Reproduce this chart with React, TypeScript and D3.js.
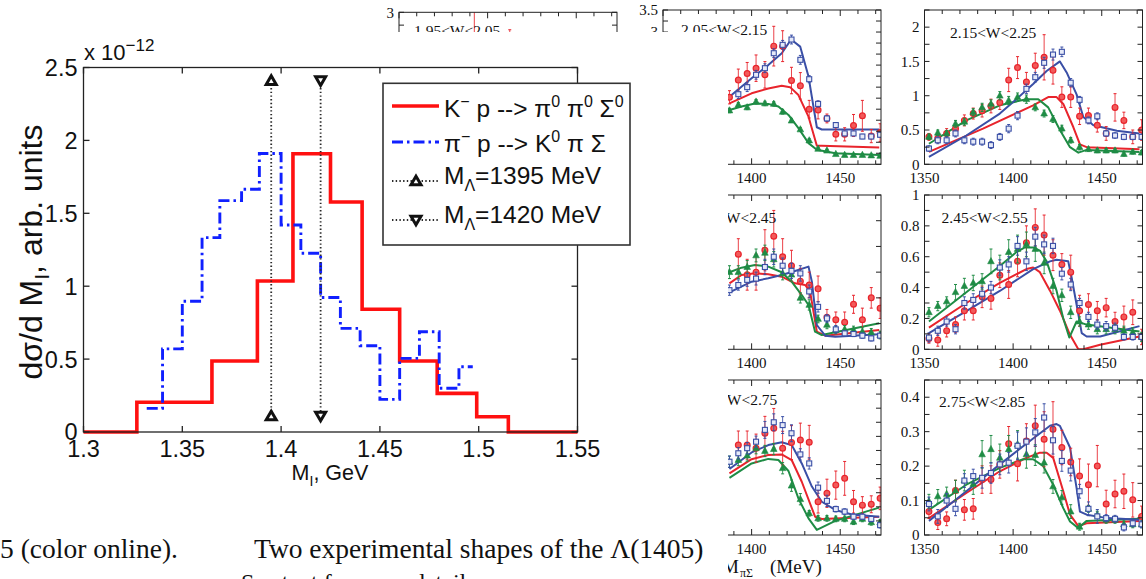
import React from 'react';
import * as d3 from 'd3';

// ================= Main figure data =================
const xTicksMain = [1.3, 1.35, 1.4, 1.45, 1.5, 1.55];
const xTickLabelsMain = ['1.3', '1.35', '1.4', '1.45', '1.5', '1.55'];
const yTicksMain = [0, 0.5, 1, 1.5, 2, 2.5];
const yTickLabelsMain = ['0', '0.5', '1', '1.5', '2', '2.5'];

// K- p --> pi0 pi0 Sigma0 (red histogram)
const redEdges = [1.3, 1.327, 1.365, 1.388, 1.406, 1.425, 1.441, 1.46, 1.479, 1.499, 1.515, 1.55];
const redValues = [0, 0.204, 0.487, 1.036, 1.908, 1.578, 0.842, 0.487, 0.265, 0.105, 0];

// pi- p --> K0 pi Sigma (blue dash-dot histogram)
const blueEdges = [1.332, 1.34, 1.35, 1.36, 1.369, 1.38, 1.389, 1.4, 1.41, 1.42, 1.43, 1.44, 1.45, 1.46, 1.47, 1.48, 1.49, 1.497];
const blueValues = [0.162, 0.57, 0.897, 1.333, 1.587, 1.665, 1.91, 1.42, 1.226, 0.922, 0.711, 0.592, 0.224, 0.505, 0.688, 0.3, 0.448];

// Lambda mass markers
const lambdaMasses = [1.395, 1.42];
const lambdaMarkerLevels = [0.11, 2.41];

// ================= Side panels data (M_piSigma in MeV) =================
const panelXs = [1352.5, 1357.5, 1362.5, 1367.5, 1372.5, 1377.5, 1382.5, 1387.5, 1392.5, 1397.5, 1402.5, 1407.5, 1412.5, 1417.5, 1422.5, 1427.5, 1432.5, 1437.5, 1442.5, 1447.5, 1452.5, 1457.5, 1462.5, 1467.5, 1472.5];
const panelXsB = [1387.5, 1392.5, 1397.5, 1402.5, 1407.5, 1412.5, 1417.5, 1422.5, 1427.5, 1432.5, 1437.5, 1442.5, 1447.5, 1452.5, 1457.5, 1462.5, 1467.5, 1472.5];
const panelXTicksLabels = ['1350', '1400', '1450'];

// Panel 1.95<W<2.05 (mostly hidden)
const redXsA = [1392.5, 1412.5];
const redA = [2.35, 2.5];
const redErrA = [0.7, 0.16];

// Panel 2.05<W<2.15
const redB1 = [1.52, 1.91, 2.06, 2.18, 2.03, 2.68, 2.68, 1.9, 1.78, 1.25, 1.23, 1.04, 0.68, 0.68, 0.88, 1.1, 0.64, 0.72];
const redErrB1 = [0.15, 0.25, 0.25, 0.3, 0.3, 0.45, 0.35, 0.3, 0.3, 0.2, 0.2, 0.1, 0.15, 0.15, 0.25, 0.35, 0.15, 0.2];
const blueB1 = [null, 1.59, 1.75, 2.03, 2.18, 2.52, 2.71, 2.83, 2.37, 1.93, 1.37, 1.04, 0.89, 0.7, 0.7, 0.63, 0.63, 0.67];
const blueErrB1 = [0.08, 0.1, 0.1, 0.1, 0.1, 0.1, 0.1, 0.1, 0.1, 0.08, 0.07, 0.06, 0.05, 0.05, 0.05, 0.05, 0.05, 0.05];
const greenB1 = [1.22, 1.35, 1.29, 1.42, 1.38, 1.37, 1.19, 0.99, 0.79, 0.54, 0.35, 0.31, 0.23, 0.21, 0.21, 0.21, 0.2, 0.19];
const greenErrB1 = [0.05, 0.05, 0.05, 0.05, 0.05, 0.05, 0.05, 0.04, 0.04, 0.04, 0.03, 0.03, 0.03, 0.03, 0.03, 0.03, 0.03, 0.03];
const blueCurveB1 = [[1387.5, 1.53], [1400, 1.95], [1409.4, 2.25], [1417, 2.52], [1422.3, 2.83], [1427.4, 2.67], [1432.1, 1.99], [1436.8, 0.84], [1439.6, 0.79], [1472, 0.79]];
const redCurveB1 = [[1387.5, 1.38], [1400, 1.61], [1409.4, 1.72], [1417, 1.78], [1421.7, 1.75], [1426.4, 1.57], [1432.1, 1.08], [1436.8, 0.42], [1439.6, 0.42], [1472, 0.38]];
const greenCurveB1 = [[1387.5, 1.23], [1394.3, 1.31], [1401.9, 1.38], [1409.4, 1.37], [1415.1, 1.31], [1420.8, 1.12], [1426.4, 0.82], [1432.1, 0.48], [1436.8, 0.33], [1447.2, 0.25], [1472, 0.21]];

// Panel 2.15<W<2.25
const redC1 = [0.4, 0.38, 0.45, 0.52, 0.64, 0.74, 0.78, 0.85, 0.9, 1.23, 1.41, 1.2, 1.44, 1.56, 1.37, 0.98, 0.98, 0.7, 0.71, 0.57, 0.45, 0.83, 0.64, 0.4, 0.5];
const redErrC1 = [0.05, 0.06, 0.07, 0.07, 0.08, 0.08, 0.09, 0.1, 0.1, 0.17, 0.16, 0.14, 0.18, 0.33, 0.2, 0.15, 0.15, 0.12, 0.11, 0.1, 0.1, 0.2, 0.12, 0.1, 0.15];
const blueC1 = [0.23, 0.35, 0.35, 0.45, 0.35, 0.33, 0.33, 0.28, 0.4, 0.52, 0.71, 1.1, 1.27, 1.48, 1.6, 1.64, 1.19, 0.94, 0.64, 0.7, 0.45, 0.42, 0.4, 0.4, 0.4];
const blueErrC1 = [0.04, 0.05, 0.05, 0.05, 0.05, 0.05, 0.05, 0.05, 0.05, 0.06, 0.06, 0.07, 0.07, 0.08, 0.08, 0.07, 0.06, 0.05, 0.05, 0.05, 0.04, 0.04, 0.04, 0.04, 0.04];
const greenC1 = [0.4, 0.46, 0.45, 0.59, 0.62, 0.76, 0.83, 0.88, 1.0, 0.93, 0.98, 0.95, 0.83, 0.74, 0.66, 0.52, 0.35, 0.25, 0.22, 0.2, 0.2, 0.2, 0.15, 0.18, 0.17];
const greenErrC1 = [0.04, 0.04, 0.04, 0.05, 0.05, 0.05, 0.06, 0.06, 0.06, 0.06, 0.06, 0.06, 0.05, 0.05, 0.05, 0.05, 0.04, 0.04, 0.03, 0.03, 0.03, 0.03, 0.03, 0.03, 0.03];
const blueCurveC1 = [[1352.5, 0.11], [1373.6, 0.42], [1392.5, 0.74], [1401, 0.93], [1411.3, 1.17], [1418.9, 1.36], [1426.4, 1.5], [1430.2, 1.34], [1435.8, 1.02], [1439.6, 0.69], [1445.3, 0.57], [1458.5, 0.49], [1471.3, 0.45]];
const redCurveC1 = [[1352.5, 0.18], [1383, 0.52], [1411.3, 0.86], [1419.8, 0.98], [1424.5, 0.98], [1428.3, 0.88], [1434, 0.54], [1437.7, 0.29], [1441.5, 0.25], [1471.3, 0.22]];
const greenCurveC1 = [[1352.5, 0.3], [1373.6, 0.64], [1392.5, 0.86], [1407.5, 0.95], [1414.2, 0.95], [1419.8, 0.83], [1426.4, 0.5], [1432.1, 0.25], [1436.8, 0.17], [1441.5, 0.21], [1471.3, 0.18]];

// Panel 2.35<W<2.45
const redB2 = [null, 0.74, 0.58, 0.6, 0.77, 0.88, 0.72, 0.65, 0.53, 0.5, 0.47, 0.25, 0.23, 0.21, 0.35, 0.23, 0.4, 0.32];
const redErrB2 = [0.1, 0.12, 0.12, 0.14, 0.16, 0.2, 0.14, 0.12, 0.1, 0.1, 0.1, 0.06, 0.06, 0.08, 0.07, 0.09, 0.08, 0.08];
const blueB2 = [0.46, 0.5, 0.54, 0.55, 0.64, 0.72, 0.65, 0.61, 0.59, 0.45, 0.33, 0.24, 0.155, 0.124, 0.119, 0.106, 0.085, 0.106];
const blueErrB2 = [0.04, 0.04, 0.05, 0.05, 0.06, 0.06, 0.06, 0.06, 0.06, 0.05, 0.04, 0.03, 0.03, 0.02, 0.02, 0.02, 0.02, 0.02];
const greenB2 = [0.6, 0.6, 0.64, 0.73, 0.75, 0.7, 0.59, 0.58, 0.4, 0.345, 0.236, 0.19, 0.15, 0.155, 0.15, 0.137, 0.132, 0.111];
const greenErrB2 = [0.05, 0.05, 0.05, 0.05, 0.06, 0.06, 0.05, 0.05, 0.04, 0.04, 0.03, 0.03, 0.03, 0.03, 0.03, 0.03, 0.03, 0.03];
const blueCurveB2 = [[1387.5, 0.443], [1400, 0.526], [1409.4, 0.552], [1417, 0.578], [1424.5, 0.609], [1432.1, 0.643], [1434, 0.526], [1436.8, 0.189], [1441.5, 0.106], [1447.2, 0.098], [1472, 0.117]];
const redCurveB2 = [[1387.5, 0.513], [1394.3, 0.578], [1401.9, 0.591], [1409.4, 0.583], [1417, 0.565], [1424.5, 0.513], [1430.2, 0.5], [1433, 0.448], [1436.8, 0.137], [1441.5, 0.106], [1472, 0.15]];
const greenCurveB2 = [[1387.5, 0.599], [1394.3, 0.635], [1401.9, 0.656], [1409.4, 0.643], [1417, 0.599], [1422.6, 0.526], [1428.3, 0.422], [1432.1, 0.345], [1435.8, 0.137], [1439.6, 0.111], [1472, 0.202]];

// Panel 2.45<W<2.55
const redC2 = [0.07, 0.06, 0.12, 0.16, 0.25, 0.25, 0.34, 0.33, 0.48, 0.42, 0.57, 0.69, 0.79, 0.74, 0.61, 0.55, 0.5, 0.25, 0.29, 0.25, 0.27, 0.18, 0.21, 0.24, 0.08];
const redErrC2 = [0.03, 0.04, 0.04, 0.05, 0.06, 0.06, 0.07, 0.07, 0.08, 0.09, 0.1, 0.11, 0.12, 0.13, 0.1, 0.07, 0.11, 0.1, 0.07, 0.06, 0.06, 0.06, 0.07, 0.08, 0.05];
const blueC2 = [0.076, 0.12, 0.18, 0.13, 0.3, 0.32, 0.36, 0.4, 0.53, 0.55, 0.67, 0.57, 0.73, 0.68, 0.67, 0.49, 0.42, 0.3, 0.21, 0.16, 0.15, 0.14, 0.08, 0.08, 0.08];
const blueErrC2 = [0.03, 0.03, 0.03, 0.03, 0.04, 0.04, 0.04, 0.04, 0.05, 0.05, 0.06, 0.06, 0.06, 0.06, 0.05, 0.04, 0.04, 0.03, 0.03, 0.03, 0.03, 0.03, 0.02, 0.02, 0.02];
const greenC2 = [0.24, 0.28, 0.31, 0.37, 0.41, 0.43, 0.44, 0.57, 0.53, 0.63, 0.65, 0.68, 0.65, 0.56, 0.41, 0.35, 0.24, 0.18, 0.16, 0.13, 0.13, 0.13, 0.12, 0.11, 0.08];
const greenErrC2 = [0.03, 0.03, 0.03, 0.05, 0.05, 0.05, 0.05, 0.08, 0.08, 0.08, 0.09, 0.08, 0.08, 0.07, 0.05, 0.04, 0.04, 0.03, 0.03, 0.03, 0.03, 0.03, 0.03, 0.03, 0.03];
const blueCurveC2 = [[1352.5, 0.105], [1373.6, 0.247], [1392.5, 0.378], [1411.3, 0.52], [1420.8, 0.57], [1424.5, 0.58], [1431.1, 0.57], [1433, 0.465], [1435.8, 0.29], [1438.7, 0.105], [1441.5, 0.083], [1449.1, 0.083], [1471.3, 0.15]];
const redCurveC2 = [[1352.5, 0.14], [1373.6, 0.3], [1392.5, 0.43], [1407.5, 0.52], [1411.3, 0.53], [1415.1, 0.5], [1420.8, 0.38], [1426.4, 0.25], [1432.1, 0.094], [1436.8, 0.0], [1439.6, 0.0], [1449.1, 0.03], [1471.3, 0.083]];
const greenCurveC2 = [[1352.5, 0.18], [1373.6, 0.37], [1392.5, 0.54], [1401.9, 0.63], [1406.6, 0.66], [1411.3, 0.66], [1415.1, 0.64], [1418.9, 0.57], [1424.5, 0.38], [1428.3, 0.2], [1431.7, 0.076], [1435.8, 0.18], [1441.5, 0.16], [1471.3, 0.116]];

// Panel 2.65<W<2.75
const redB3 = [null, 0.319, 0.319, 0.308, 0.361, 0.379, 0.308, 0.328, 0.337, 0.329, 0.118, 0.148, 0.177, 0.201, 0.118, 0.106, 0.109, 0.13];
const redErrB3 = [0.05, 0.05, 0.05, 0.05, 0.06, 0.07, 0.06, 0.06, 0.06, 0.06, 0.04, 0.05, 0.05, 0.06, 0.04, 0.03, 0.03, 0.04];
const blueB3 = [0.26, 0.29, 0.308, 0.331, 0.373, 0.4, 0.39, 0.361, 0.286, 0.254, 0.168, 0.121, 0.092, 0.083, 0.065, 0.065, 0.057, 0.035];
const blueErrB3 = [0.02, 0.02, 0.02, 0.02, 0.03, 0.03, 0.03, 0.03, 0.02, 0.02, 0.02, 0.02, 0.01, 0.01, 0.01, 0.01, 0.01, 0.01];
const greenB3 = [0.26, 0.266, 0.282, 0.308, 0.298, 0.305, 0.237, 0.175, 0.127, 0.077, 0.059, 0.059, 0.057, 0.057, 0.047, 0.057, 0.045, 0.045];
const greenErrB3 = [0.02, 0.02, 0.02, 0.02, 0.02, 0.02, 0.02, 0.02, 0.02, 0.01, 0.01, 0.01, 0.01, 0.01, 0.01, 0.01, 0.01, 0.01];
const blueCurveB3 = [[1387.5, 0.234], [1400, 0.293], [1409.4, 0.319], [1417, 0.329], [1422.6, 0.319], [1428.3, 0.254], [1434, 0.172], [1439.6, 0.118], [1447.2, 0.089], [1456.6, 0.073], [1472, 0.065]];
const redCurveB3 = [[1387.5, 0.219], [1400, 0.269], [1409.4, 0.284], [1417, 0.286], [1422.6, 0.266], [1428.3, 0.189], [1435.8, 0.065], [1439.6, 0.057], [1472, 0.065]];
const greenCurveB3 = [[1387.5, 0.203], [1400, 0.254], [1409.4, 0.27], [1415.1, 0.266], [1420.8, 0.227], [1426.4, 0.13], [1432.1, 0.059], [1436.8, 0.018], [1447.2, 0.05], [1472, 0.097]];

// Panel 2.75<W<2.85
const redC3 = [0.068, 0.036, 0.047, 0.129, 0.073, 0.076, 0.161, 0.161, 0.205, 0.265, 0.207, 0.273, 0.317, 0.278, 0.307, 0.254, 0.212, 0.171, 0.146, 0.2, 0.09, 0.119, 0.127, 0.102, 0.054];
const redErrC3 = [0.02, 0.02, 0.02, 0.03, 0.03, 0.03, 0.04, 0.04, 0.04, 0.05, 0.05, 0.05, 0.06, 0.08, 0.08, 0.05, 0.04, 0.05, 0.06, 0.06, 0.04, 0.04, 0.05, 0.05, 0.03];
const blueC3 = [0.09, 0.054, 0.1, 0.076, 0.158, 0.171, 0.166, 0.18, 0.205, 0.21, 0.259, 0.271, 0.298, 0.341, 0.275, 0.215, 0.187, 0.127, 0.076, 0.054, 0.049, 0.047, 0.022, 0.034, 0.031];
const blueErrC3 = [0.02, 0.02, 0.02, 0.02, 0.02, 0.02, 0.03, 0.03, 0.03, 0.03, 0.04, 0.04, 0.04, 0.04, 0.04, 0.03, 0.03, 0.02, 0.02, 0.02, 0.01, 0.01, 0.01, 0.01, 0.01];
const greenC3 = [0.098, 0.112, 0.119, 0.129, 0.158, 0.148, 0.234, 0.249, 0.224, 0.249, 0.263, 0.234, 0.232, 0.21, 0.141, 0.109, 0.068, 0.024, 0.076, 0.059, 0.044, 0.044, 0.031, 0.031, 0.031];
const greenErrC3 = [0.02, 0.02, 0.02, 0.03, 0.03, 0.03, 0.04, 0.04, 0.04, 0.04, 0.04, 0.04, 0.03, 0.03, 0.02, 0.02, 0.02, 0.01, 0.01, 0.01, 0.01, 0.01, 0.01, 0.01, 0.01];
const blueCurveC3 = [[1352.5, 0.041], [1373.6, 0.127], [1392.5, 0.205], [1411.3, 0.28], [1420.8, 0.317], [1424.5, 0.322], [1426.4, 0.317], [1432.1, 0.254], [1435.8, 0.137], [1437.7, 0.068], [1441.5, 0.059], [1453.2, 0.049], [1471.3, 0.044]];
const redCurveC3 = [[1352.5, 0.049], [1373.6, 0.122], [1392.5, 0.185], [1407.5, 0.224], [1415.1, 0.239], [1418.9, 0.239], [1422.6, 0.224], [1428.3, 0.127], [1432.1, 0.059], [1436.8, 0.026], [1441.5, 0.034], [1471.3, 0.041]];
const greenCurveC3 = [[1352.5, 0.073], [1373.6, 0.146], [1392.5, 0.195], [1405.7, 0.22], [1411.3, 0.22], [1417, 0.2], [1422.6, 0.146], [1428.3, 0.078], [1432.1, 0.039], [1436.8, 0.02], [1441.5, 0.041], [1471.3, 0.047]];

// ================= Styles =================
const RED = '#e8242c';
const BLUE = '#3a4fa6';
const GREEN = '#1f8c45';
const SERIF = "'Liberation Serif', 'Times New Roman', serif";
const SANS = "'Liberation Sans', Arial, Helvetica, sans-serif";

type Series = { kind: 'circle' | 'square' | 'triangle'; xs: number[]; ys: (number | null)[]; errs: number[] };
type PanelSpec = {
  id: string; left: number; right: number; top: number; bottom: number;
  yMax: number; yStep: number; labelStep: number;
  title: string; titleX: number; titleY: number;
  curves: { color: string; pts: number[][] }[];
  series: Series[];
};

const PANEL_XDOMAIN = [1350, 1473];

const panels: PanelSpec[] = [
  { id: 'A', left: 399, right: 617, top: 12.3, bottom: 166.3, yMax: 3, yStep: 0.25, labelStep: 0.5,
    title: '1.95<W<2.05', titleX: 414, titleY: 36, curves: [],
    series: [{ kind: 'circle', xs: redXsA, ys: redA, errs: redErrA }] },
  { id: 'B1', left: 663, right: 881, top: 10, bottom: 164.3, yMax: 3.5, yStep: 0.25, labelStep: 0.5,
    title: '2.05<W<2.15', titleX: 681, titleY: 35,
    curves: [{ color: RED, pts: redCurveB1 }, { color: GREEN, pts: greenCurveB1 }, { color: BLUE, pts: blueCurveB1 }],
    series: [{ kind: 'circle', xs: panelXsB, ys: redB1, errs: redErrB1 }, { kind: 'triangle', xs: panelXsB, ys: greenB1, errs: greenErrB1 }, { kind: 'square', xs: panelXsB, ys: blueB1, errs: blueErrB1 }] },
  { id: 'C1', left: 924.5, right: 1142.5, top: 10, bottom: 164.3, yMax: 2.25, yStep: 0.25, labelStep: 0.5,
    title: '2.15<W<2.25', titleX: 950, titleY: 38,
    curves: [{ color: RED, pts: redCurveC1 }, { color: GREEN, pts: greenCurveC1 }, { color: BLUE, pts: blueCurveC1 }],
    series: [{ kind: 'circle', xs: panelXs, ys: redC1, errs: redErrC1 }, { kind: 'triangle', xs: panelXs, ys: greenC1, errs: greenErrC1 }, { kind: 'square', xs: panelXs, ys: blueC1, errs: blueErrC1 }] },
  { id: 'B2', left: 663, right: 881, top: 195, bottom: 349.3, yMax: 1.2, yStep: 0.2, labelStep: 0.2,
    title: '2.35<W<2.45', titleX: 690, titleY: 223,
    curves: [{ color: RED, pts: redCurveB2 }, { color: GREEN, pts: greenCurveB2 }, { color: BLUE, pts: blueCurveB2 }],
    series: [{ kind: 'circle', xs: panelXsB, ys: redB2, errs: redErrB2 }, { kind: 'triangle', xs: panelXsB, ys: greenB2, errs: greenErrB2 }, { kind: 'square', xs: panelXsB, ys: blueB2, errs: blueErrB2 }] },
  { id: 'C2', left: 924.5, right: 1142.5, top: 195, bottom: 349.3, yMax: 1, yStep: 0.1, labelStep: 0.2,
    title: '2.45<W<2.55', titleX: 941.5, titleY: 223,
    curves: [{ color: RED, pts: redCurveC2 }, { color: GREEN, pts: greenCurveC2 }, { color: BLUE, pts: blueCurveC2 }],
    series: [{ kind: 'circle', xs: panelXs, ys: redC2, errs: redErrC2 }, { kind: 'triangle', xs: panelXs, ys: greenC2, errs: greenErrC2 }, { kind: 'square', xs: panelXs, ys: blueC2, errs: blueErrC2 }] },
  { id: 'B3', left: 663, right: 881, top: 380, bottom: 535, yMax: 0.55, yStep: 0.05, labelStep: 0.1,
    title: '2.65<W<2.75', titleX: 691, titleY: 405,
    curves: [{ color: RED, pts: redCurveB3 }, { color: GREEN, pts: greenCurveB3 }, { color: BLUE, pts: blueCurveB3 }],
    series: [{ kind: 'circle', xs: panelXsB, ys: redB3, errs: redErrB3 }, { kind: 'triangle', xs: panelXsB, ys: greenB3, errs: greenErrB3 }, { kind: 'square', xs: panelXsB, ys: blueB3, errs: blueErrB3 }] },
  { id: 'C3', left: 924.5, right: 1142.5, top: 380, bottom: 535, yMax: 0.45, yStep: 0.05, labelStep: 0.1,
    title: '2.75<W<2.85', titleX: 939, titleY: 406.5,
    curves: [{ color: RED, pts: redCurveC3 }, { color: GREEN, pts: greenCurveC3 }, { color: BLUE, pts: blueCurveC3 }],
    series: [{ kind: 'circle', xs: panelXs, ys: redC3, errs: redErrC3 }, { kind: 'triangle', xs: panelXs, ys: greenC3, errs: greenErrC3 }, { kind: 'square', xs: panelXs, ys: blueC3, errs: blueErrC3 }] },
];

const fmtTick = (v: number) => String(+v.toFixed(2));

function Marker({ kind, cx, cy }: { kind: string; cx: number; cy: number }) {
  if (kind === 'circle') return <circle cx={cx} cy={cy} r={2.9} fill="#f25a5a" stroke={RED} strokeWidth={1.2} />;
  if (kind === 'square') return <rect x={cx - 2.5} y={cy - 2.5} width={5} height={5} fill="#e6eaf8" stroke={BLUE} strokeWidth={1.1} />;
  return <path d={`M${cx},${cy - 3.8} L${cx + 3.3},${cy + 2.4} L${cx - 3.3},${cy + 2.4} Z`} fill={GREEN} stroke={GREEN} strokeWidth={0.6} />;
}

function Panel(p: PanelSpec) {
  const x = d3.scaleLinear().domain(PANEL_XDOMAIN).range([p.left, p.right]);
  const y = d3.scaleLinear().domain([0, p.yMax]).range([p.bottom, p.top]);
  const line = d3.line<number[]>().x(d => x(d[0])).y(d => y(d[1]));
  const xTicks = d3.range(1350, 1471, 10);
  const yTicks = d3.range(0, p.yMax + 1e-9, p.yStep);
  const colorOf = (k: string) => (k === 'circle' ? RED : k === 'square' ? BLUE : GREEN);
  const clipId = `clip-${p.id}`;
  return (
    <g>
      <defs>
        <clipPath id={clipId}>
          <rect x={p.left} y={p.top} width={p.right - p.left} height={p.bottom - p.top} />
        </clipPath>
      </defs>
      <g clipPath={`url(#${clipId})`}>
        {p.curves.map((c, i) => (
          <path key={i} d={line(c.pts) || ''} fill="none" stroke={c.color} strokeWidth={2} strokeLinejoin="round" />
        ))}
        {p.series.map((s, si) => (
          <g key={si}>
            {s.ys.map((v, i) => {
              if (v === null || v === undefined) return null;
              const cx = x(s.xs[i]);
              const e = s.errs[i];
              const col = colorOf(s.kind);
              return (
                <g key={i}>
                  <line x1={cx} x2={cx} y1={y(v - e)} y2={y(v + e)} stroke={col} strokeWidth={1} opacity={0.85} />
                  <line x1={cx - 1.5} x2={cx + 1.5} y1={y(v - e)} y2={y(v - e)} stroke={col} strokeWidth={1} />
                  <line x1={cx - 1.5} x2={cx + 1.5} y1={y(v + e)} y2={y(v + e)} stroke={col} strokeWidth={1} />
                  <Marker kind={s.kind} cx={cx} cy={y(v)} />
                </g>
              );
            })}
          </g>
        ))}
      </g>
      <rect x={p.left} y={p.top} width={p.right - p.left} height={p.bottom - p.top} fill="none" stroke="#222" strokeWidth={1} />
      {xTicks.map(t => (
        <g key={t}>
          <line x1={x(t)} x2={x(t)} y1={p.bottom} y2={p.bottom - (t % 50 === 0 ? 6 : 4)} stroke="#222" />
          <line x1={x(t)} x2={x(t)} y1={p.top} y2={p.top + (t % 50 === 0 ? 6 : 4)} stroke="#222" />
        </g>
      ))}
      {[1350, 1400, 1450].map((t, i) => (
        <text key={t} x={x(t)} y={p.bottom + 19} textAnchor="middle" fontFamily={SERIF} fontSize={15} fill="#111">{panelXTicksLabels[i]}</text>
      ))}
      {yTicks.map((t, i) => {
        const isLab = Math.abs(t / p.labelStep - Math.round(t / p.labelStep)) < 1e-6;
        return (
          <g key={i}>
            <line x1={p.left} x2={p.left + 5} y1={y(t)} y2={y(t)} stroke="#222" />
            <line x1={p.right} x2={p.right - 5} y1={y(t)} y2={y(t)} stroke="#222" />
            {isLab && (
              <text x={p.left - 5} y={y(t)} dy="0.35em" textAnchor="end" fontFamily={SERIF} fontSize={15} fill="#111">{fmtTick(t)}</text>
            )}
          </g>
        );
      })}
      <text x={p.titleX} y={p.titleY} fontFamily={SERIF} fontSize={15.5} fill="#111">{p.title}</text>
    </g>
  );
}

function MainChart() {
  const left = 83.5, right = 577.5, top = 67.5, bottom = 432;
  const x = d3.scaleLinear().domain([1.3, 1.55]).range([left, right]);
  const y = d3.scaleLinear().domain([0, 2.5]).range([bottom, top]);
  const step = d3.line<number[]>().x(d => x(d[0])).y(d => y(d[1])).curve(d3.curveStepAfter);
  const redPts = redValues.map((v, i) => [redEdges[i], v]);
  redPts.push([redEdges[redEdges.length - 1], redValues[redValues.length - 1]]);
  const bluePts = blueValues.map((v, i) => [blueEdges[i], v]);
  bluePts.push([blueEdges[blueEdges.length - 1], blueValues[blueValues.length - 1]]);
  const up = (cx: number, cy: number) => `M${cx},${cy - 4.8} L${cx + 5},${cy + 3.8} L${cx - 5},${cy + 3.8} Z`;
  const down = (cx: number, cy: number) => `M${cx},${cy + 4.8} L${cx + 5},${cy - 3.8} L${cx - 5},${cy - 3.8} Z`;
  const dashBlue = '11,4,2.5,4';
  const dot = '1.4,2.3';
  const lg = { x: 383, y: 83.3, w: 247, h: 161.7, sx1: 392, sx2: 439, tx: 444 };
  const LF = 24.5;
  return (
    <g fontFamily={SANS}>
      <rect x={left} y={top} width={right - left} height={bottom - top} fill="#fff" />
      <path d={step(redPts) || ''} fill="none" stroke="#ff1010" strokeWidth={3.6} />
      <path d={step(bluePts) || ''} fill="none" stroke="#1020ff" strokeWidth={2.9} strokeDasharray={dashBlue} />
      {lambdaMasses.map((m, i) => (
        <g key={m}>
          <line x1={x(m)} x2={x(m)} y1={y(lambdaMarkerLevels[1])} y2={y(lambdaMarkerLevels[0])} stroke="#2a2a2a" strokeWidth={1.8} strokeDasharray={dot} />
          {lambdaMarkerLevels.map(l => (
            <path key={l} d={i === 0 ? up(x(m), y(l)) : down(x(m), y(l))} fill="#fff" stroke="#111" strokeWidth={3} strokeLinejoin="miter" />
          ))}
        </g>
      ))}
      <rect x={left} y={top} width={right - left} height={bottom - top} fill="none" stroke="#222" strokeWidth={1.3} />
      {xTicksMain.map((t, i) => (
        <g key={t}>
          <line x1={x(t)} x2={x(t)} y1={bottom} y2={bottom - 6} stroke="#222" strokeWidth={1.3} />
          <line x1={x(t)} x2={x(t)} y1={top} y2={top + 6} stroke="#222" strokeWidth={1.3} />
          <text x={x(t)} y={457} textAnchor="middle" fontSize={23.5} fill="#111">{xTickLabelsMain[i]}</text>
        </g>
      ))}
      {yTicksMain.map((t, i) => (
        <g key={t}>
          <line x1={left} x2={left + 6} y1={y(t)} y2={y(t)} stroke="#222" strokeWidth={1.3} />
          <line x1={right} x2={right - 6} y1={y(t)} y2={y(t)} stroke="#222" strokeWidth={1.3} />
          <text x={77.5} y={y(t)} dy="0.36em" textAnchor="end" fontSize={23.5} fill="#111">{yTickLabelsMain[i]}</text>
        </g>
      ))}
      <text x={84} y={60} fontSize={22} fill="#111">x 10<tspan dy={-9} fontSize={17}>−12</tspan></text>
      <text transform="translate(42,252) rotate(-90)" textAnchor="middle" fontSize={32} fill="#111">
        dσ/d M<tspan dy={7} fontSize={21}>I</tspan><tspan dy={-7}>, arb. units</tspan>
      </text>
      <text x={330} y={480} textAnchor="middle" fontSize={21.5} fill="#111">
        M<tspan dy={6} fontSize={14}>I</tspan><tspan dy={-6}>, GeV</tspan>
      </text>
      {/* legend */}
      <rect x={lg.x} y={lg.y} width={lg.w} height={lg.h} fill="#fff" stroke="#333" strokeWidth={1.6} />
      <line x1={lg.sx1} x2={lg.sx2} y1={106} y2={106} stroke="#ff1010" strokeWidth={3.6} />
      <line x1={lg.sx1} x2={lg.sx2} y1={142} y2={142} stroke="#1020ff" strokeWidth={2.9} strokeDasharray={dashBlue} />
      <line x1={lg.sx1} x2={lg.sx2} y1={181} y2={181} stroke="#2a2a2a" strokeWidth={1.8} strokeDasharray={dot} />
      <path d={up(416, 181)} fill="#fff" stroke="#111" strokeWidth={3} />
      <line x1={lg.sx1} x2={lg.sx2} y1={220} y2={220} stroke="#2a2a2a" strokeWidth={1.8} strokeDasharray={dot} />
      <path d={down(416, 220)} fill="#fff" stroke="#111" strokeWidth={3} />
      <text x={lg.tx} y={116.5} fontSize={LF} fill="#111">
        K<tspan dy={-10} fontSize={16}>−</tspan><tspan dy={10}>{' p --> π'}</tspan><tspan dy={-10} fontSize={16}>0</tspan><tspan dy={10}>{' π'}</tspan><tspan dy={-10} fontSize={16}>0</tspan><tspan dy={10}>{' Σ'}</tspan><tspan dy={-10} fontSize={16}>0</tspan>
      </text>
      <text x={lg.tx} y={151.5} fontSize={LF} fill="#111">
        π<tspan dy={-10} fontSize={16}>−</tspan><tspan dy={10}>{' p --> K'}</tspan><tspan dy={-10} fontSize={16}>0</tspan><tspan dy={10}>{' π Σ'}</tspan>
      </text>
      <text x={lg.tx} y={184} fontSize={LF} fill="#111">
        M<tspan dy={7} fontSize={16}>Λ</tspan><tspan dy={-7}>=1395 MeV</tspan>
      </text>
      <text x={lg.tx} y={223} fontSize={LF} fill="#111">
        M<tspan dy={7} fontSize={16}>Λ</tspan><tspan dy={-7}>=1420 MeV</tspan>
      </text>
    </g>
  );
}

export default function App() {
  const W = 1146, H = 579;
  return (
    <svg width={W} height={H} viewBox={`0 0 ${W} ${H}`} style={{ position: 'absolute', left: 0, top: 0, display: 'block' }}>
      <rect width={W} height={H} fill="#fff" />
      {panels.map(p => <Panel key={p.id} {...p} />)}
      <g fontFamily={SERIF} fill="#111">
        <text x={722} y={573} fontSize={19}>M</text>
        <text x={740} y={577} fontSize={12}>πΣ</text>
        <text x={770} y={573} fontSize={19}>(MeV)</text>
      </g>
      {/* page region occupied by the left figure */}
      <rect x={0} y={32} width={728} height={H - 32} fill="#fff" />
      <MainChart />
      <g fontFamily={SERIF} fill="#111">
        <text x={0} y={558} fontSize={27.5}>5 (color online).</text>
        <text x={254} y={558} fontSize={27.5}>Two experimental shapes of the Λ(1405)</text>
        <text x={241} y={590} fontSize={24}>See text for more details.</text>
      </g>
    </svg>
  );
}
